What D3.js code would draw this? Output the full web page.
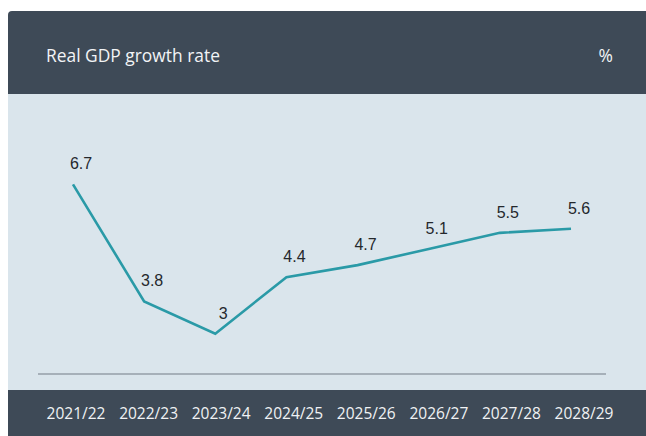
<!DOCTYPE html>
<html>
<head>
<meta charset="utf-8">
<script src="https://cdn.jsdelivr.net/npm/d3@7"></script>
<style>
  html, body { margin: 0; padding: 0; background: #ffffff; }
  svg { display: block; }
</style>
</head>
<body>
<svg id="chart" width="646" height="436"></svg>
<script>
// Fiscal years and real GDP growth (%)
const years = ["2021/22", "2022/23", "2023/24", "2024/25", "2025/26", "2026/27", "2027/28", "2028/29"];
const growth = [6.7, 3.8, 3, 4.4, 4.7, 5.1, 5.5, 5.6];
const title = "Real GDP growth rate";
const unit = "%";

const W = 646, H = 436;
const svg = d3.select("#chart");

const dark = "#3e4a57";
const light = "#dae5ec";

// Card: header, plot panel, footer with category labels
const card = { x: 8, y: 11, w: W, h: H };
svg.append("rect").attr("x", card.x).attr("y", card.y).attr("width", card.w).attr("height", card.h)
  .attr("rx", 4).attr("fill", dark);
svg.append("rect").attr("x", card.x).attr("y", 94).attr("width", card.w).attr("height", 296)
  .attr("fill", light);

svg.append("text").attr("x", 46).attr("y", 61.5)
  .attr("font-family", "'Open Sans', sans-serif").attr("font-size", 17.4)
  .attr("fill", "#f2f4f6").text(title);
svg.append("text").attr("x", 613).attr("y", 61.5).attr("text-anchor", "end")
  .attr("font-family", "'Open Sans', sans-serif").attr("font-size", 17.4)
  .attr("fill", "#f2f4f6").text(unit);

// Scales
const x = d3.scalePoint().domain(years).range([73, 571]);
const xLabels = d3.scalePoint().domain(years).range([75.5, 583.5]);
const y = d3.scaleLinear().domain([2, 8]).range([374, 132]);

// Baseline
svg.append("line").attr("x1", 38).attr("x2", 606)
  .attr("y1", y(2)).attr("y2", y(2))
  .attr("stroke", "#727c86").attr("stroke-width", 1.2);

// Series line
const data = years.map((yr, i) => ({ yr, v: growth[i] }));
svg.append("path").datum(data)
  .attr("fill", "none").attr("stroke", "#2a9aa7").attr("stroke-width", 2.6)
  .attr("stroke-linejoin", "miter")
  .attr("d", d3.line().x(d => x(d.yr)).y(d => y(d.v)));

// Value labels
svg.append("g").selectAll("text").data(data).join("text")
  .attr("x", d => x(d.yr) + 8)
  .attr("y", d => y(d.v) - 15)
  .attr("text-anchor", "middle")
  .attr("font-family", "'Liberation Sans', Arial, sans-serif")
  .attr("font-size", 16).attr("fill", "#24282c")
  .text(d => d.v);

// Category axis in the footer
const axis = svg.append("g").attr("transform", "translate(0,419)")
  .call(d3.axisBottom(xLabels).tickSize(0).tickPadding(0));
axis.select(".domain").remove();
axis.selectAll("text")
  .attr("dy", 0).attr("y", 0)
  .attr("font-family", "'Open Sans', sans-serif").attr("font-size", 15.5)
  .attr("fill", "#f0f2f4");
</script>
</body>
</html>
